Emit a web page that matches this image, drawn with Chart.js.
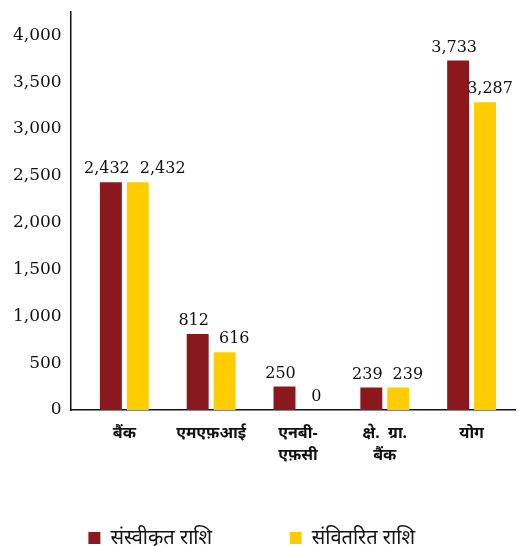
<!DOCTYPE html>
<html>
<head>
<meta charset="utf-8">
<script src="https://cdn.jsdelivr.net/npm/chart.js@4"></script>
<style>
  html, body { margin: 0; padding: 0; background: #fff; }
  #wrap { width: 519px; height: 546px; }
</style>
</head>
<body>
<div id="wrap"><canvas id="barChart"></canvas></div>
<script>
    // categories and series
    var categories = [
        "बैंक",
        "एमएफ़आई",
        ["एनबी-", "एफ़सी"],
        ["क्षे.  ग्रा.", "बैंक"],
        "योग"
    ];
    var sanctioned = [2432, 812, 250, 239, 3733];
    var disbursed = [2432, 616, 0, 239, 3287];
    var seriesNames = ["संस्वीकृत राशि", "संवितरित राशि"];
    var yTicks = [0, 500, 1000, 1500, 2000, 2500, 3000, 3500, 4000];

    var numFont = "'DejaVu Serif', Georgia, serif";
    var hindiFont = "'Noto Sans', sans-serif";

    // value labels above the bars, second series nudged right when they collide
    var valueLabels = {
        id: 'valueLabels',
        afterDatasetsDraw: function (chart) {
            var ctx = chart.ctx;
            ctx.save();
            ctx.font = "16px " + numFont;
            ctx.fillStyle = "#111";
            ctx.textAlign = "center";
            ctx.textBaseline = "bottom";
            var m0 = chart.getDatasetMeta(0).data;
            var m1 = chart.getDatasetMeta(1).data;
            for (var j = 0; j < m0.length; j++) {
                var t0 = sanctioned[j].toLocaleString('en-US');
                var t1 = disbursed[j].toLocaleString('en-US');
                var w0 = ctx.measureText(t0).width;
                var w1 = ctx.measureText(t1).width;
                var x0 = m0[j].x - 4;
                var x1 = m1[j].x + 5;
                if (Math.abs(m0[j].y - m1[j].y) < 30 && x1 - w1 / 2 < x0 + w0 / 2 + 8) {
                    x1 = x0 + w0 / 2 + 10 + w1 / 2;
                }
                ctx.fillText(t0, x0, m0[j].y - 5);
                ctx.fillText(t1, x1, m1[j].y - 5);
            }
            ctx.restore();
        }
    };

    var barChartCanvas = document.getElementById('barChart').getContext('2d');

    var chartData = {
        labels: categories,
        datasets: [
            {
                label: seriesNames[0],
                data: sanctioned,
                backgroundColor: "#8b181d"
            },
            {
                label: seriesNames[1],
                data: disbursed,
                backgroundColor: "#ffcc00"
            }]
    };

    var chart = new Chart(barChartCanvas, {
      type: 'bar',
      data: chartData,
      plugins: [valueLabels],
      options: {
        responsive: true,
        maintainAspectRatio: false,
        animation: false,
        layout: { padding: { top: 12, right: 4, left: 4, bottom: -12 } },
        categoryPercentage: 0.62,
        barPercentage: 0.815,
        plugins: {
          legend: {
            position: 'bottom',
            labels: {
              boxWidth: 12,
              boxHeight: 12,
              padding: 10,
              color: "#111",
              font: { size: 20, family: hindiFont },
              generateLabels: function (c) {
                var items = Chart.defaults.plugins.legend.labels.generateLabels(c);
                // widen the gap after the first item
                items[0].text = items[0].text + "             ";
                items[1].text = items[1].text + "   ";
                return items;
              }
            }
          },
          tooltip: { enabled: false }
        },
        scales: {
          x: {
            grid: { display: false, drawTicks: false },
            border: { color: "#111", width: 1.5 },
            afterFit: function (axis) { axis.height = 108; },
            afterBuildTicks: function (axis) {
              // leave a small gap between the y axis and the first group
              axis._startValue = -0.618;
              axis._valueRange = categories.length + 0.118;
            },
            ticks: {
              color: "#111",
              padding: 12,
              maxRotation: 0,
              autoSkip: false,
              font: { size: 16, weight: 'bold', family: hindiFont, lineHeight: 1.4 }
            }
          },
          y: {
            min: 0,
            max: 4250,
            grid: { display: false, drawTicks: false },
            border: { color: "#111", width: 1.5 },
            afterBuildTicks: function (axis) {
              axis.ticks = yTicks.map(function (v) { return { value: v }; });
            },
            afterFit: function (axis) { axis.paddingTop = 0; },
            ticks: {
              color: "#111",
              padding: 9,
              font: { size: 17, family: numFont },
              callback: function (v) { return v.toLocaleString('en-US'); }
            }
          }
        }
      }
    });
</script>
</body>
</html>
